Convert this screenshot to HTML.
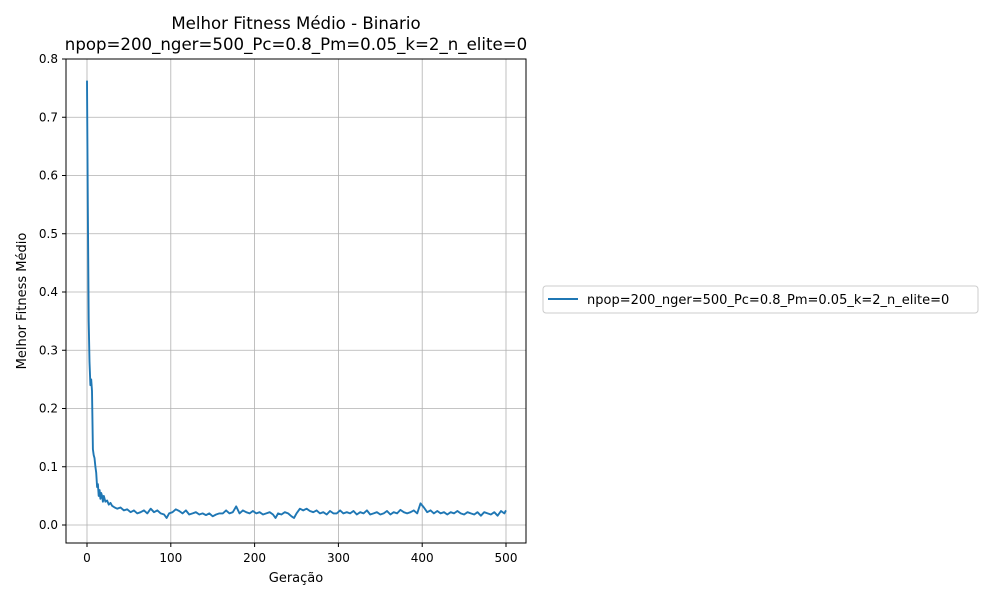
<!DOCTYPE html>
<html><head><meta charset="utf-8"><style>
body{margin:0;background:#fff;font-family:"DejaVu Sans","Liberation Sans",sans-serif;}
</style></head><body>
<svg id="chart" width="1000" height="600" xmlns="http://www.w3.org/2000/svg">
<text x="296" y="29" text-anchor="middle" font-size="16.6">Melhor Fitness Médio - Binario</text>
<text x="296" y="50" text-anchor="middle" font-size="16.6">npop=200_nger=500_Pc=0.8_Pm=0.05_k=2_n_elite=0</text>
<g id="grid"></g>
<g id="ticks"></g>
<path id="line" fill="none" stroke="#1f77b4" stroke-width="1.9" stroke-linejoin="round"/>
<rect x="66" y="59" width="460" height="484" fill="none" stroke="#000" stroke-width="1"/>
<text x="296" y="582" text-anchor="middle" font-size="13">Geração</text>
<text transform="translate(26,301) rotate(-90)" text-anchor="middle" font-size="13">Melhor Fitness Médio</text>
<g>
<rect x="543" y="286" width="435" height="27" rx="3" fill="#fff" stroke="#ccc"/>
<line x1="548" y1="299" x2="578" y2="299" stroke="#1f77b4" stroke-width="1.9"/>
<text x="587" y="304" font-size="13">npop=200_nger=500_Pc=0.8_Pm=0.05_k=2_n_elite=0</text>
</g>
</svg>
<script>
const gens = [0,1,2,3,4,5,6,7,8,9,10,11,12,13,14,15,16,17,18,19,20,22,24,26,28,30,33,36,40,44,48,52,56,60,64,68,72,76,80,84,88,92,95,98,102,106,110,114,118,122,126,130,134,138,142,146,150,154,158,162,166,170,174,178,182,186,190,194,198,202,206,210,214,218,222,225,228,232,236,240,244,247,250,254,258,262,266,270,274,278,282,286,290,294,298,302,306,310,314,318,322,326,330,334,338,342,346,350,354,358,362,366,370,374,378,382,386,390,394,398,402,406,410,414,418,422,426,430,434,438,442,446,450,454,458,462,466,470,474,478,482,486,490,494,498,500];
const vals = [0.763,0.55,0.35,0.28,0.24,0.25,0.23,0.13,0.12,0.115,0.1,0.09,0.065,0.07,0.05,0.06,0.045,0.055,0.05,0.04,0.05,0.04,0.042,0.035,0.038,0.033,0.03,0.028,0.03,0.025,0.027,0.022,0.025,0.02,0.022,0.025,0.02,0.028,0.022,0.025,0.02,0.018,0.012,0.02,0.022,0.027,0.024,0.02,0.025,0.018,0.02,0.022,0.018,0.02,0.017,0.02,0.015,0.018,0.02,0.02,0.025,0.02,0.022,0.032,0.02,0.025,0.022,0.02,0.024,0.02,0.022,0.018,0.02,0.022,0.018,0.012,0.02,0.018,0.022,0.02,0.015,0.012,0.02,0.028,0.025,0.028,0.024,0.022,0.025,0.02,0.022,0.018,0.024,0.02,0.02,0.025,0.02,0.022,0.02,0.024,0.018,0.022,0.02,0.025,0.018,0.02,0.022,0.018,0.02,0.024,0.018,0.022,0.02,0.026,0.022,0.02,0.022,0.025,0.02,0.037,0.03,0.022,0.025,0.02,0.024,0.02,0.022,0.018,0.022,0.02,0.024,0.02,0.018,0.022,0.02,0.018,0.022,0.016,0.022,0.02,0.018,0.022,0.016,0.024,0.02,0.025];
const xTicks = [0,100,200,300,400,500];
const yTicks = [0.0,0.1,0.2,0.3,0.4,0.5,0.6,0.7,0.8];
const X = v => 87 + v * (419/500);
const Y = v => 525 - v * (466/0.8);
const ns = "http://www.w3.org/2000/svg";
const grid = document.getElementById('grid'), ticks = document.getElementById('ticks');
function mk(tag, attrs, parent){const e=document.createElementNS(ns,tag);for(const k in attrs)e.setAttribute(k,attrs[k]);parent.appendChild(e);return e;}
xTicks.forEach(t=>{
  const g = mk('line',{x1:X(t),x2:X(t),y1:59,y2:543,stroke:'#b0b0b0','stroke-width':0.8},grid);
  
  
  const tk = mk('line',{x1:X(t),x2:X(t),y1:543,y2:547,stroke:'#000'},ticks);
  
  
  const tx = mk('text',{x:X(t),y:562,'text-anchor':'middle','font-size':12},ticks);
  tx.textContent = t;
  
  
});
yTicks.forEach(t=>{
  const g = mk('line',{x1:66,x2:526,y1:Y(t),y2:Y(t),stroke:'#b0b0b0','stroke-width':0.8},grid);
  
  
  const tk = mk('line',{x1:62,x2:66,y1:Y(t),y2:Y(t),stroke:'#000'},ticks);
  
  
  const tx = mk('text',{x:58,y:Y(t)+4,'text-anchor':'end','font-size':12},ticks);
  tx.textContent = t.toFixed(1);
  
  
});
document.getElementById('line').setAttribute('d', gens.map((g,i)=>(i?'L':'M')+X(g).toFixed(1)+','+Y(vals[i]).toFixed(1)).join(''));
</script>
</body></html>
